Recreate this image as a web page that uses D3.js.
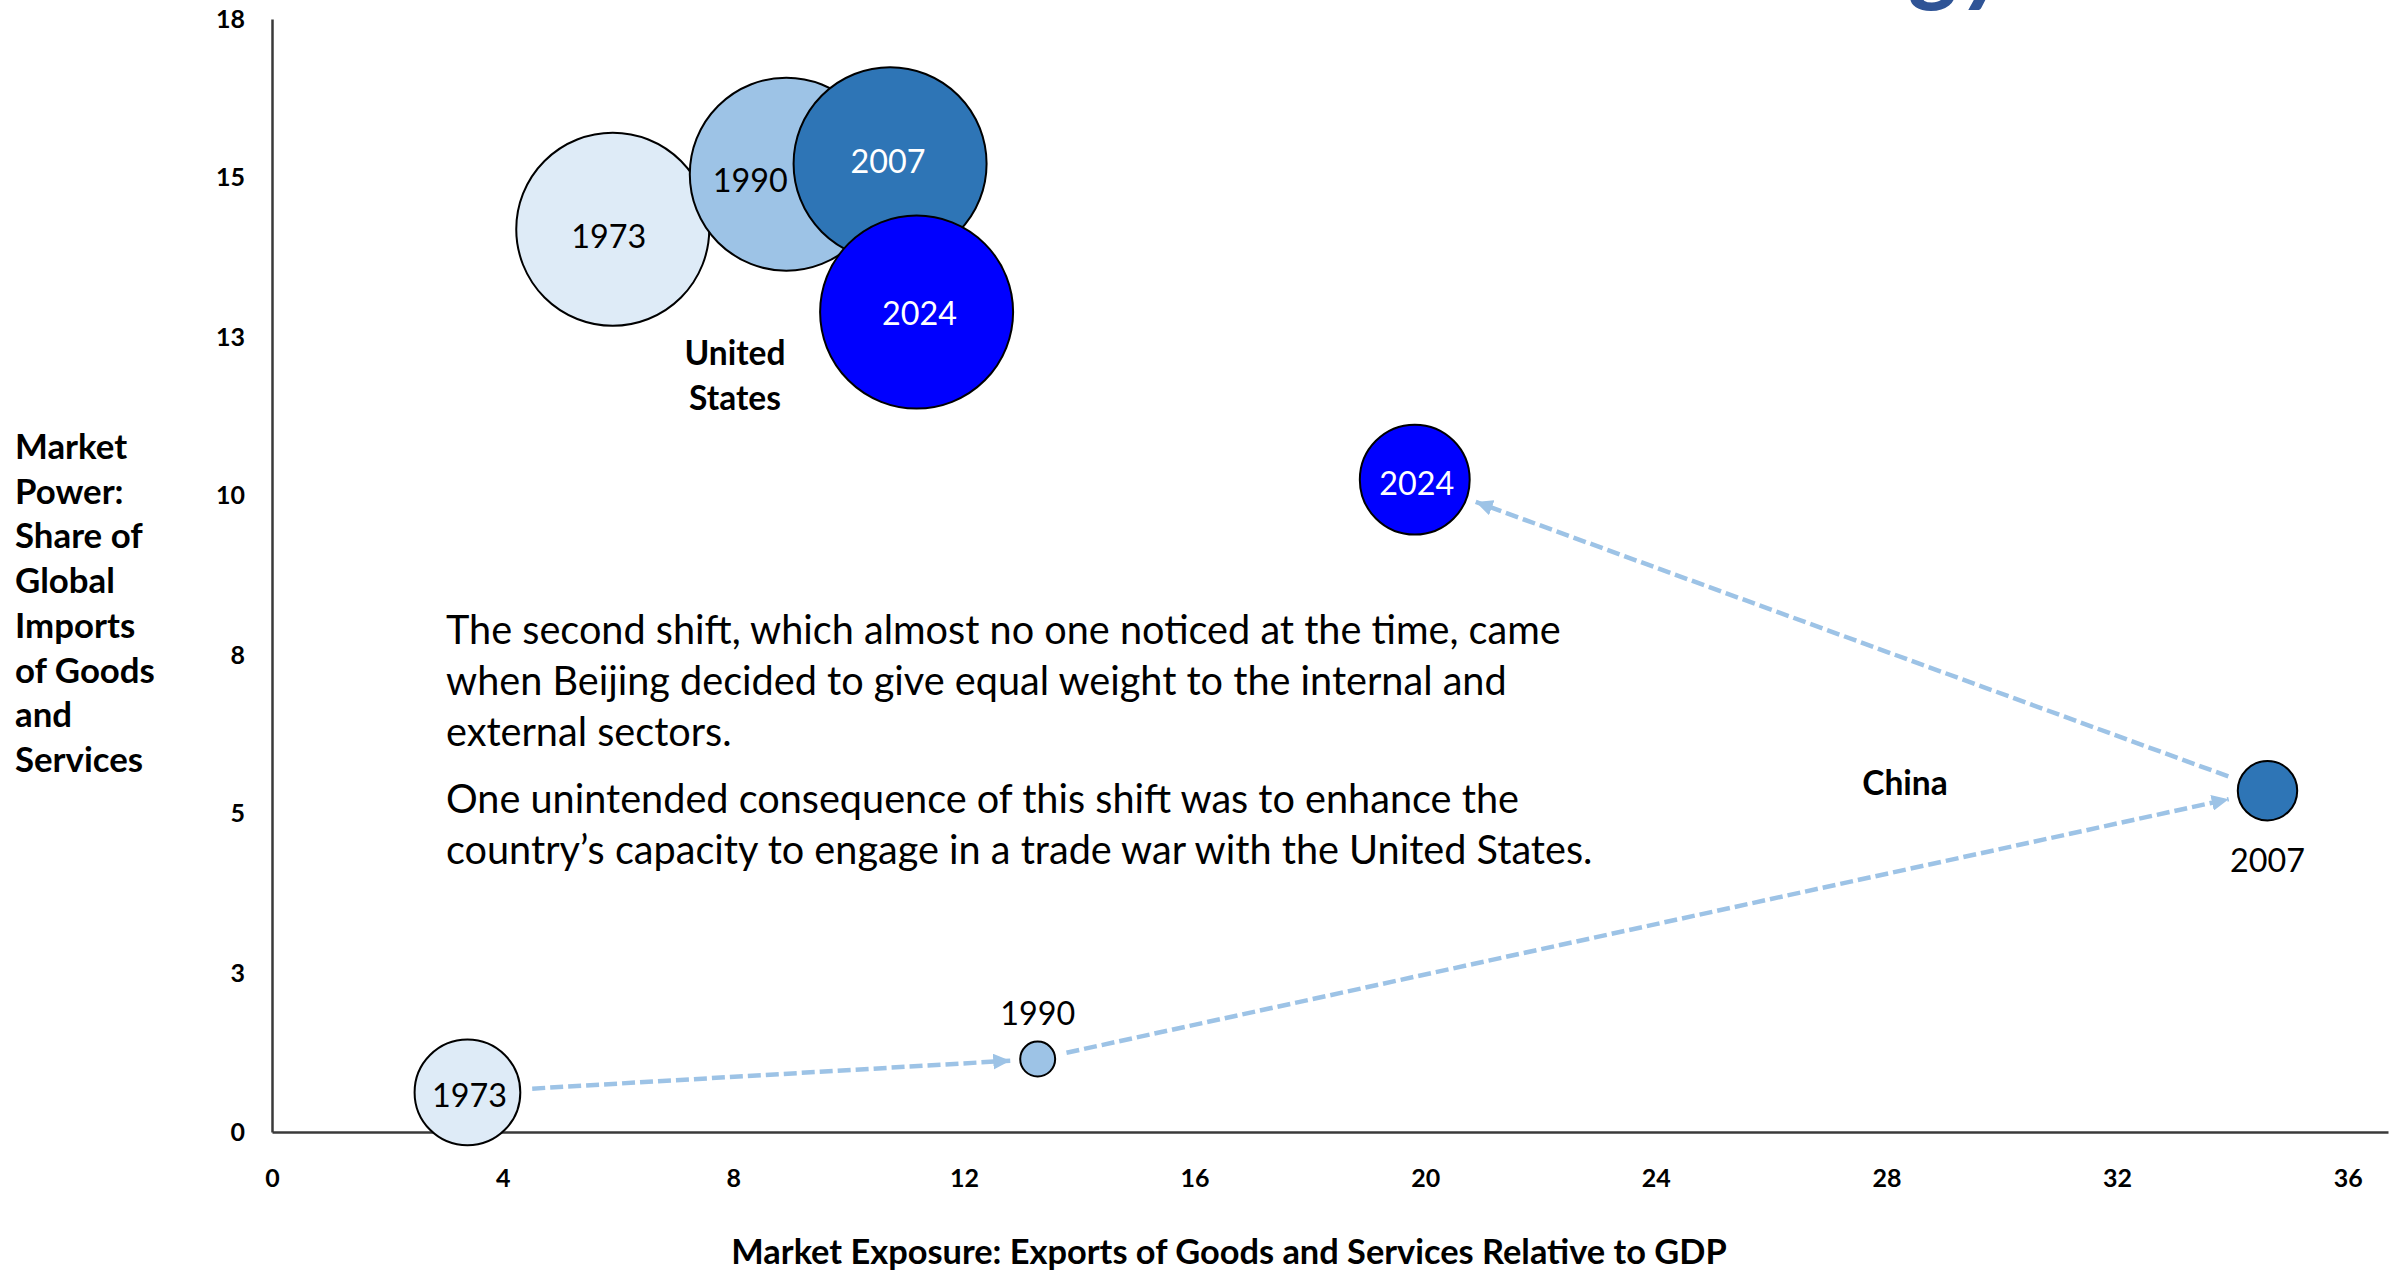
<!DOCTYPE html>
<html>
<head>
<meta charset="utf-8">
<script src="https://cdn.jsdelivr.net/npm/d3@7"></script>
<style>
  body { margin: 0; background: #fff; }
</style>
</head>
<body>
<div id="chart"></div>
<script>
// Data
const years = ['1973', '1990', '2007', '2024'];
const yearColors = ['#DEEBF7', '#9DC3E6', '#2E75B6', '#0000FF'];
const yearTextColors = ['#000', '#000', '#fff', '#fff'];

const usExposure = [5.91, 8.92, 10.72, 11.18];
const usPower = [14.6, 15.49, 15.66, 13.26];
const usSize = [25, 25, 25, 25];

const chinaExposure = [3.39, 13.28, 34.61, 19.82];
const chinaPower = [0.64, 1.18, 5.52, 10.55];
const chinaSize = [7.5, 0.82, 2.37, 8.1];

const xTickValues = [0, 4, 8, 12, 16, 20, 24, 28, 32, 36];
const yTickValues = [0, 2.571, 5.143, 7.714, 10.286, 12.857, 15.429, 18];
const yTickLabels = ['0', '3', '5', '8', '10', '13', '15', '18'];

const yAxisTitle = ['Market', 'Power:', 'Share of', 'Global', 'Imports', 'of Goods', 'and', 'Services'];
const xAxisTitle = 'Market Exposure: Exports of Goods and Services Relative to GDP';
const noteLines = [
  'The second shift, which almost no one noticed at the time, came',
  'when Beijing decided to give equal weight to the internal and',
  'external sectors.',
  'One unintended consequence of this shift was to enhance the',
  'country\u2019s capacity to engage in a trade war with the United States.'
];

const width = 2397,
  height = 1271;
const font = 'Lato, "Open Sans", sans-serif';
const arrowColor = '#9DC3E6';

const svg = d3
  .select('#chart')
  .append('svg')
  .attr('width', width)
  .attr('height', height)
  .style('display', 'block')
  .style('background', '#fff');

// scale a font so a sample string gets a given width
const fitSize = (text, weight, target, style = 'normal') => {
  const t = svg
    .append('text')
    .attr('font-family', font)
    .attr('font-weight', weight)
    .attr('font-style', style)
    .attr('font-size', 40)
    .text(text);
  const w = t.node().getComputedTextLength();
  t.remove();
  return (40 * target) / w;
};

const x = d3.scaleLinear().domain([0, 36.7]).range([272, 2388]);
const y = d3.scaleLinear().domain([0, 18]).range([1132, 19]);
const r = d3.scaleSqrt().domain([0, 25]).range([0, 96.5]);

// cut-off title fragment at the top (clipped in the source too)
svg
  .append('text')
  .attr('x', 2013)
  .attr('y', -7)
  .attr('text-anchor', 'end')
  .attr('font-family', font)
  .attr('font-weight', 700)
  .attr('font-style', 'italic')
  .attr('font-size', 100)
  .attr('fill', '#2F5496')
  .text('gy');

// Axes
const tickFont = fitSize('18', 700, 29);

const xAxis = svg
  .append('g')
  .attr('transform', `translate(0,${y(0)})`)
  .call(
    d3
      .axisBottom(x)
      .tickValues(xTickValues)
      .tickSize(0)
      .tickSizeOuter(0)
      .tickPadding(37)
      .tickFormat(d3.format('d'))
  );

const yAxis = svg
  .append('g')
  .attr('transform', `translate(${x(0)},0)`)
  .call(
    d3
      .axisLeft(y)
      .tickValues(yTickValues)
      .tickSize(0)
      .tickSizeOuter(0)
      .tickPadding(27)
      .tickFormat((d, i) => yTickLabels[i])
  );

[xAxis, yAxis].forEach((g) => {
  g.select('.domain').attr('stroke', '#3a3a3a').attr('stroke-width', 2.5);
  g.selectAll('text')
    .attr('font-family', font)
    .attr('font-weight', 700)
    .attr('font-size', tickFont)
    .attr('fill', '#000');
});

// Axis titles
const yTitleFont = fitSize('of Goods', 700, 140);
svg
  .append('g')
  .selectAll('text')
  .data(yAxisTitle)
  .join('text')
  .attr('x', 15)
  .attr('y', (d, i) => 459 + i * 44.7)
  .attr('font-family', font)
  .attr('font-weight', 700)
  .attr('font-size', yTitleFont)
  .text((d) => d);

svg
  .append('text')
  .attr('x', 1229)
  .attr('y', 1264)
  .attr('text-anchor', 'middle')
  .attr('font-family', font)
  .attr('font-weight', 700)
  .attr('font-size', fitSize(xAxisTitle, 700, 996))
  .text(xAxisTitle);

// Note text
const noteFont = fitSize(noteLines[4], 400, 1147);
const noteBaselines = [644, 695, 746, 813, 864];
svg
  .append('g')
  .selectAll('text')
  .data(noteLines)
  .join('text')
  .attr('x', 446)
  .attr('y', (d, i) => noteBaselines[i])
  .attr('font-family', font)
  .attr('font-size', noteFont)
  .attr('fill', '#000')
  .text((d) => d);

// China path arrows
svg
  .append('defs')
  .append('marker')
  .attr('id', 'arrow')
  .attr('markerUnits', 'userSpaceOnUse')
  .attr('viewBox', '0 0 17 16')
  .attr('markerWidth', 17)
  .attr('markerHeight', 16)
  .attr('refX', 17)
  .attr('refY', 8)
  .attr('orient', 'auto')
  .append('path')
  .attr('d', 'M0,0 L17,8 L0,16 Z')
  .attr('fill', arrowColor);

const china = years.map((yr, i) => ({
  year: yr,
  cx: x(chinaExposure[i]),
  cy: y(chinaPower[i]),
  r: r(chinaSize[i]),
  color: yearColors[i],
  text: yearTextColors[i],
}));

const segments = d3.pairs(china).map(([a, b]) => {
  const dx = b.cx - a.cx,
    dy = b.cy - a.cy,
    len = Math.hypot(dx, dy);
  const ux = dx / len,
    uy = dy / len;
  return {
    x1: a.cx + ux * (a.r + 12),
    y1: a.cy + uy * (a.r + 12),
    x2: b.cx - ux * (b.r + 10),
    y2: b.cy - uy * (b.r + 10),
  };
});

svg
  .append('g')
  .selectAll('line')
  .data(segments)
  .join('line')
  .attr('x1', (d) => d.x1)
  .attr('y1', (d) => d.y1)
  .attr('x2', (d) => d.x2)
  .attr('y2', (d) => d.y2)
  .attr('stroke', arrowColor)
  .attr('stroke-width', 4.5)
  .attr('stroke-dasharray', '13,5')
  .attr('marker-end', 'url(#arrow)');

// Bubbles
const us = years.map((yr, i) => ({
  year: yr,
  cx: x(usExposure[i]),
  cy: y(usPower[i]),
  r: r(usSize[i]),
  color: yearColors[i],
  text: yearTextColors[i],
}));

const labelFont = fitSize('1973', 400, 75);

const drawBubbles = (data, labelPos) => {
  const g = svg.append('g');
  g.selectAll('circle')
    .data(data)
    .join('circle')
    .attr('cx', (d) => d.cx)
    .attr('cy', (d) => d.cy)
    .attr('r', (d) => d.r)
    .attr('fill', (d) => d.color)
    .attr('stroke', '#000')
    .attr('stroke-width', 2);
  g.selectAll('text')
    .data(data)
    .join('text')
    .each(function (d, i) {
      const p = labelPos(d, i);
      d3.select(this)
        .attr('x', p.x)
        .attr('y', p.y)
        .attr('fill', p.fill);
    })
    .attr('text-anchor', 'middle')
    .attr('font-family', font)
    .attr('font-size', labelFont)
    .text((d) => d.year);
};

// small nudges so labels sit as in the source
const usLabelDx = [-4, -36, -2, 3];
const usLabelDy = [19, 18, 9, 13];

drawBubbles(us, (d, i) => ({
  x: d.cx + usLabelDx[i],
  y: d.cy + usLabelDy[i],
  fill: d.text,
}));

drawBubbles(china, (d, i) => {
  if (i === 1) return { x: d.cx, y: d.cy - d.r - 17, fill: '#000' };
  if (i === 2) return { x: d.cx, y: d.cy + d.r + 52, fill: '#000' };
  return { x: d.cx + 2, y: d.cy + 15, fill: d.text };
});

// Country labels
const countryFont = fitSize('United', 700, 101);
svg
  .append('text')
  .attr('text-anchor', 'middle')
  .attr('font-family', font)
  .attr('font-weight', 700)
  .attr('font-size', countryFont)
  .selectAll('tspan')
  .data(['United', 'States'])
  .join('tspan')
  .attr('x', 735)
  .attr('y', (d, i) => 365 + i * 45)
  .text((d) => d);

svg
  .append('text')
  .attr('x', 1905)
  .attr('y', 795)
  .attr('text-anchor', 'middle')
  .attr('font-family', font)
  .attr('font-weight', 700)
  .attr('font-size', countryFont)
  .text('China');
</script>
</body>
</html>
